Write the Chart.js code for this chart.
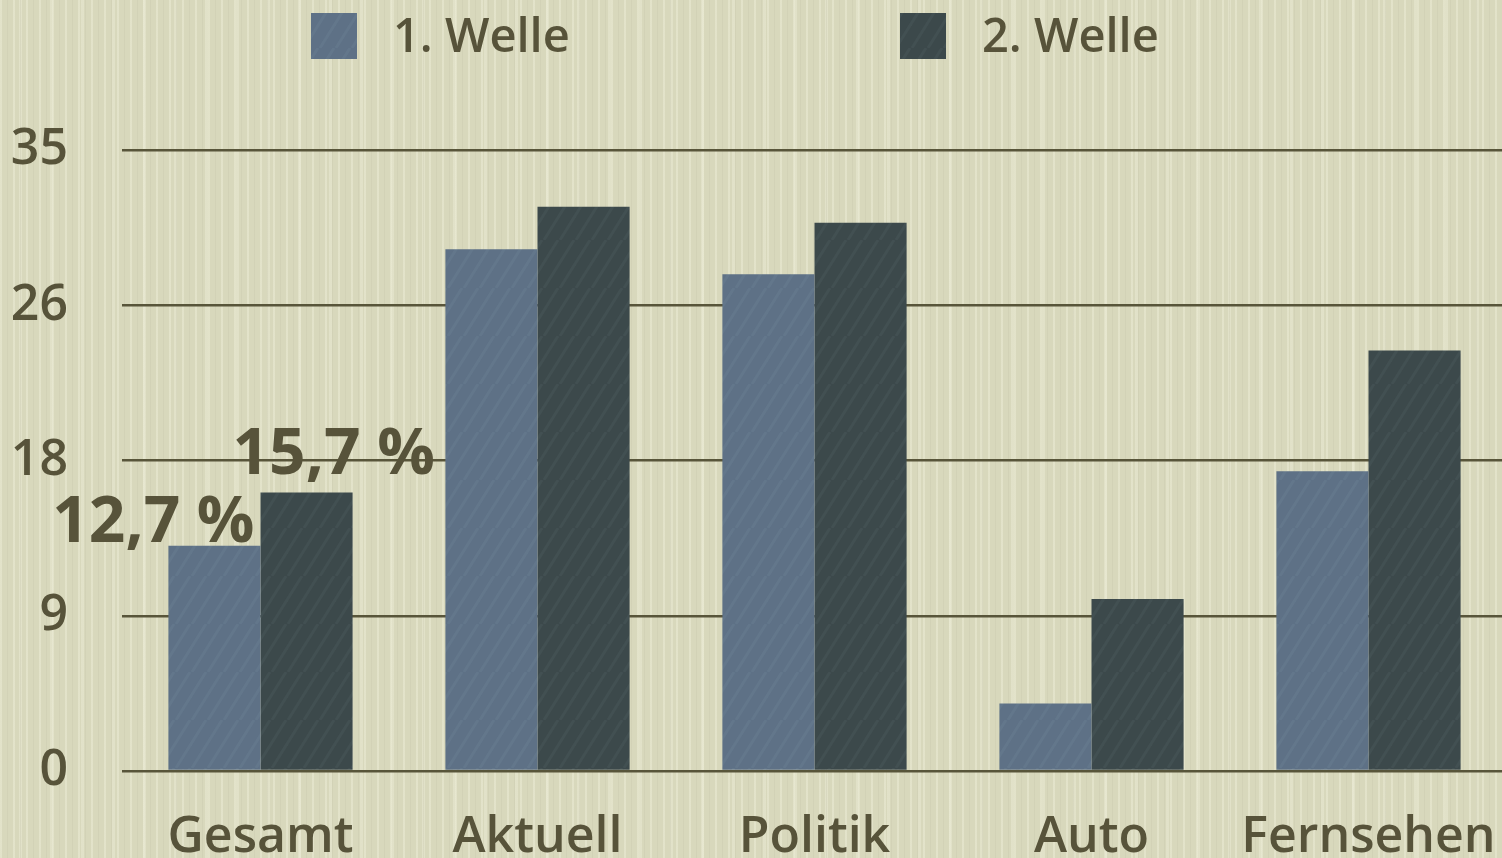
<!DOCTYPE html>
<html lang="de">
<head>
<meta charset="utf-8">
<title>1. Welle / 2. Welle</title>
<script src="https://cdn.jsdelivr.net/npm/chart.js"></script>
<style>
  html, body { margin: 0; padding: 0; width: 1502px; height: 858px; overflow: hidden; }
  body {
    background-color: #d8d8bc;
    background-image:
      repeating-linear-gradient(90deg, rgba(236,236,214,0.5) 0 2px, transparent 2px 7px, rgba(196,195,170,0.3) 7px 8px, transparent 8px 13px),
      repeating-linear-gradient(90deg, transparent 0 19px, rgba(238,238,218,0.4) 19px 22px, transparent 22px 31px);
  }
  #chart { position: absolute; left: 0; top: 0; }
</style>
</head>
<body>
<canvas id="chart" width="1507" height="867"></canvas>
<script>
  // data
  const categories = ['Gesamt', 'Aktuell', 'Politik', 'Auto', 'Fernsehen'];
  const seriesNames = ['1. Welle', '2. Welle'];
  const welle1 = [12.7, 29.4, 28.0, 3.8, 16.9];
  const welle2 = [15.7, 31.8, 30.9, 9.7, 23.7];
  const yTickLabels = ['0', '9', '18', '26', '35'];
  const gesamtLabels = ['12,7 %', '15,7 %'];

  const textColor = '#57533a';
  const font = '"Open Sans", "DejaVu Sans", sans-serif';

  // streaky fill for the bars
  function makePattern(base, light) {
    const c = document.createElement('canvas');
    c.width = 48; c.height = 48;
    const g = c.getContext('2d');
    g.fillStyle = base;
    g.fillRect(0, 0, 48, 48);
    g.strokeStyle = light;
    g.lineWidth = 3;
    for (let i = -48; i < 96; i += 16) {
      g.beginPath();
      g.moveTo(i, 48);
      g.lineTo(i + 30, 0);
      g.stroke();
    }
    return g.createPattern(c, 'repeat');
  }
  const fill1 = makePattern('#5e7186', 'rgba(120,140,160,0.22)');
  const fill2 = makePattern('#3c494b', 'rgba(90,105,108,0.22)');

  const topLegend = {
    id: 'topLegend',
    afterDraw(chart) {
      const ctx = chart.ctx;
      const boxes = [311, 900];
      ctx.save();
      ctx.font = '600 47px ' + font;
      ctx.textBaseline = 'alphabetic';
      chart.data.datasets.forEach((ds, i) => {
        ctx.fillStyle = ds.backgroundColor;
        ctx.fillRect(boxes[i], 13, 46, 46);
        ctx.fillStyle = textColor;
        ctx.fillText(ds.label, boxes[i] + 82, 52);
      });
      ctx.restore();
    }
  };

  const gesamtValueLabels = {
    id: 'gesamtValueLabels',
    afterDatasetsDraw(chart) {
      const ctx = chart.ctx;
      const b1 = chart.getDatasetMeta(0).data[0];
      const b2 = chart.getDatasetMeta(1).data[0];
      ctx.save();
      ctx.font = 'bold 64px ' + font;
      ctx.fillStyle = textColor;
      ctx.textBaseline = 'alphabetic';
      ctx.textAlign = 'right';
      ctx.fillText(gesamtLabels[0], b1.x + b1.width / 2 - 6, b1.y - 4);
      ctx.textAlign = 'left';
      ctx.fillText(gesamtLabels[1], b2.x - b2.width / 2 - 28, b2.y - 18);
      ctx.restore();
    }
  };

  new Chart(document.getElementById('chart'), {
    type: 'bar',
    data: {
      labels: categories,
      datasets: [
        { label: seriesNames[0], data: welle1, backgroundColor: fill1 },
        { label: seriesNames[1], data: welle2, backgroundColor: fill2 }
      ]
    },
    options: {
      responsive: false,
      animation: false,
      datasets: { bar: { categoryPercentage: 0.665, barPercentage: 1.0 } },
      layout: { padding: { top: 150, left: 0, right: 0, bottom: 0 } },
      plugins: { legend: { display: false }, tooltip: { enabled: false } },
      scales: {
        x: {
          grid: { display: false, drawTicks: false },
          border: { display: false },
          ticks: { color: textColor, padding: 37, font: { family: font, size: 50, weight: '600' } },
          afterFit(scale) {
            scale.paddingLeft = 0;
            scale.paddingRight = 0;
            scale.height = 96;
          }
        },
        y: {
          min: 0,
          max: 35,
          grid: { color: '#58553a', lineWidth: 2.5, drawTicks: false },
          border: { display: false },
          ticks: {
            stepSize: 8.75,
            color: textColor,
            padding: 54,
            font: { family: font, size: 50, weight: '600' },
            callback: (v, i) => yTickLabels[i]
          },
          afterFit(scale) {
            scale.width = 122;
          }
        }
      }
    },
    plugins: [topLegend, gesamtValueLabels]
  });
</script>
</body>
</html>
